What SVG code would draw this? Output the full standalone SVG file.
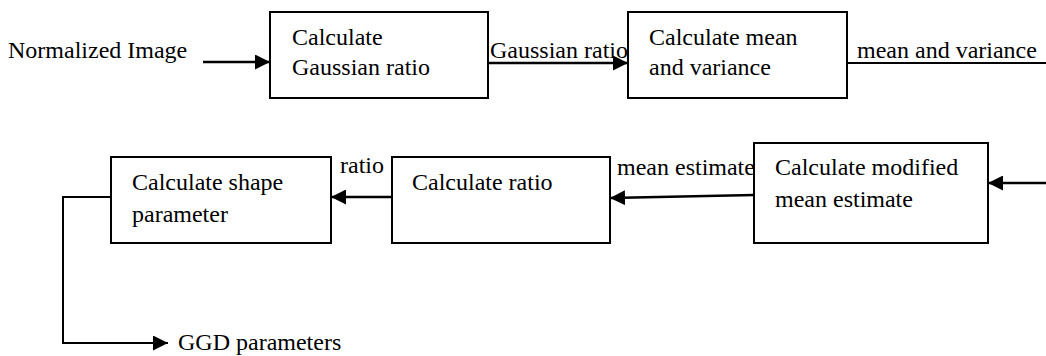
<svg xmlns="http://www.w3.org/2000/svg" width="1046" height="356" viewBox="0 0 1046 356">
<style>
.box{fill:#fff;stroke:#000;stroke-width:2}
text{font-family:"Liberation Serif","Times New Roman",serif;font-size:24px;fill:#000}
.c{fill:none;stroke:#000;stroke-width:2.5}
.t{fill:none;stroke:#000;stroke-width:2}
</style>
<defs>
<marker id="ah" markerUnits="userSpaceOnUse" markerWidth="15" markerHeight="15" refX="15" refY="7.5" orient="auto">
<path d="M0,0 L15,7.5 L0,15 z" fill="#000"/>
</marker>
</defs>
<rect width="1046" height="356" fill="#fff"/>
<g id="connectors">
<line class="c" x1="203" y1="62" x2="270" y2="62" marker-end="url(#ah)"/>
<line class="c" x1="488" y1="63" x2="628" y2="63" marker-end="url(#ah)"/>
<line class="t" x1="847" y1="63" x2="1046" y2="63"/>
<line class="c" x1="1046" y1="183" x2="988" y2="183" marker-end="url(#ah)"/>
<line class="c" x1="754" y1="195" x2="610" y2="198" marker-end="url(#ah)"/>
<line class="c" x1="392" y1="197" x2="331" y2="197" marker-end="url(#ah)"/>
<polyline class="t" points="111,197 63,197 63,343 168,343" marker-end="url(#ah)"/>
<text x="8" y="58">Normalized Image</text>
<text x="490" y="58">Gaussian ratio</text>
<text x="857" y="58">mean and variance</text>
<text x="617" y="175">mean estimate</text>
<text x="340" y="173">ratio</text>
<text x="178" y="350">GGD parameters</text>
</g>
<g id="gaussian">
<rect class="box" x="270" y="12" width="218" height="86"/>
<text x="292" y="45">Calculate</text>
<text x="292" y="75">Gaussian ratio</text>
</g>
<g id="meanvar">
<rect class="box" x="628" y="12" width="219" height="86"/>
<text x="649" y="45">Calculate mean</text>
<text x="649" y="75">and variance</text>
</g>
<g id="modified">
<rect class="box" x="754" y="143" width="234" height="100"/>
<text x="775" y="175">Calculate modified</text>
<text x="775" y="207">mean estimate</text>
</g>
<g id="ratio">
<rect class="box" x="392" y="157" width="218" height="86"/>
<text x="412" y="190">Calculate ratio</text>
</g>
<g id="shape">
<rect class="box" x="111" y="157" width="220" height="86"/>
<text x="132" y="190">Calculate shape</text>
<text x="132" y="222">parameter</text>
</g>
</svg>
